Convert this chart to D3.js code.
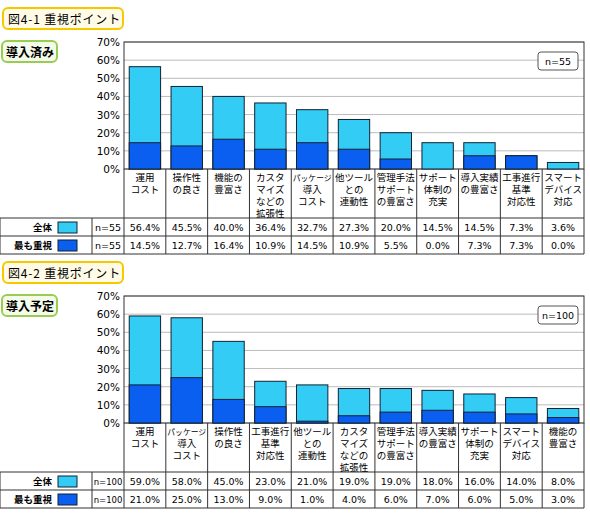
<!DOCTYPE html>
<html><head><meta charset="utf-8">
<script src="https://cdn.jsdelivr.net/npm/d3@7"></script>
<style>body{margin:0;background:#fff;font-family:"Noto Sans CJK JP",sans-serif;}</style>
</head><body><div id="chart"></div>
<script>
const cats1 = [['運用','コスト'],['操作性','の良さ'],['機能の','豊富さ'],['カスタ','マイズ','などの','拡張性'],['パッケージ','導入','コスト'],['他ツール','との','連動性'],['管理手法','サポート','の豊富さ'],['サポート','体制の','充実'],['導入実績','の豊富さ'],['工事進行','基準','対応性'],['スマート','デバイス','対応']];
const total1 = [56.4,45.5,40.0,36.4,32.7,27.3,20.0,14.5,14.5,7.3,3.6];
const top1 = [14.5,12.7,16.4,10.9,14.5,10.9,5.5,0.0,7.3,7.3,0.0];
const cats2 = [['運用','コスト'],['パッケージ','導入','コスト'],['操作性','の良さ'],['工事進行','基準','対応性'],['他ツール','との','連動性'],['カスタ','マイズ','などの','拡張性'],['管理手法','サポート','の豊富さ'],['導入実績','の豊富さ'],['サポート','体制の','充実'],['スマート','デバイス','対応'],['機能の','豊富さ']];
const total2 = [59.0,58.0,45.0,23.0,21.0,19.0,19.0,18.0,16.0,14.0,8.0];
const top2 = [21.0,25.0,13.0,9.0,1.0,4.0,6.0,7.0,6.0,5.0,3.0];
const yTicks = [0,10,20,30,40,50,60,70];

const W = 590, H = 519;
const svg = d3.select('#chart').append('svg').attr('width', W).attr('height', H);
const light = '#33ccf5', dark = '#0a5ff0';
const num = 'Verdana, DejaVu Sans';

function panel(y0, title, sub, n, cats, total, top) {
    const g = svg.append('g').attr('transform', `translate(0,${y0})`);
    const left = 124, right = 584, pTop = 42, pBot = 169;
    g.append('rect').attr('x', 3).attr('y', 8).attr('width', 120).attr('height', 21).attr('rx', 5)
        .attr('fill', '#fffbe6').attr('stroke', '#f5c800').attr('stroke-width', 2);
    g.append('text').attr('x', 8).attr('y', 24).attr('font-size', 12).attr('letter-spacing', 0.8).text(title);
    g.append('rect').attr('x', 2).attr('y', 41).attr('width', 55).attr('height', 21).attr('rx', 5)
        .attr('fill', '#f4fbe9').attr('stroke', '#99cc55').attr('stroke-width', 2);
    g.append('text').attr('x', 6).attr('y', 57).attr('font-size', 12).attr('font-weight', 'bold').text(sub);

    const x = d3.scaleBand().domain(d3.range(cats.length)).range([left, right]).paddingInner(0.25).paddingOuter(0.125);
    const y = d3.scaleLinear().domain([0, 70]).range([pBot, pTop]);

    g.append('g').selectAll('line').data(yTicks).join('line')
        .attr('x1', left).attr('x2', right).attr('y1', d => y(d)).attr('y2', d => y(d))
        .attr('stroke', '#bbb');
    g.append('rect').attr('x', left).attr('y', pTop).attr('width', right - left).attr('height', pBot - pTop)
        .attr('fill', 'none').attr('stroke', '#333');
    g.append('g').selectAll('text').data(yTicks).join('text')
        .attr('x', left - 4).attr('y', d => y(d) + 4).attr('text-anchor', 'end')
        .attr('font-size', 10.5).attr('font-family', num).text(d => d + '%');

    g.append('g').selectAll('rect').data(total).join('rect')
        .attr('x', (d, i) => x(i)).attr('width', x.bandwidth())
        .attr('y', d => y(d)).attr('height', d => pBot - y(d))
        .attr('fill', light).attr('stroke', '#123');
    g.append('g').selectAll('rect').data(top).join('rect')
        .attr('x', (d, i) => x(i)).attr('width', x.bandwidth())
        .attr('y', d => y(d)).attr('height', d => pBot - y(d))
        .attr('fill', dark).attr('stroke', '#123').attr('stroke-width', d => d > 0 ? 1 : 0);

    g.append('rect').attr('x', right - 46).attr('y', 10 + pTop).attr('width', 40).attr('height', 18).attr('rx', 3)
        .attr('fill', '#fff').attr('stroke', '#555');
    g.append('text').attr('x', right - 26).attr('y', 23 + pTop).attr('text-anchor', 'middle')
        .attr('font-size', 9.5).attr('font-family', num).text('n=' + n);

    const labBot = 218, r1 = 236, r2 = 254;
    const step = x.step();
    const colX = i => left + i * step;
    const tg = g.append('g').attr('stroke', '#333').attr('fill', 'none');
    d3.range(cats.length + 1).forEach(i => tg.append('line').attr('x1', colX(i)).attr('x2', colX(i)).attr('y1', pBot).attr('y2', r2));
    tg.append('line').attr('x1', 0).attr('x2', right).attr('y1', labBot).attr('y2', labBot);
    tg.append('line').attr('x1', 0).attr('x2', right).attr('y1', r1).attr('y2', r1);
    tg.append('line').attr('x1', 0).attr('x2', right).attr('y1', r2).attr('y2', r2);
    [0, 92].forEach(xx => tg.append('line').attr('x1', xx).attr('x2', xx).attr('y1', labBot).attr('y2', r2));

    cats.forEach((c, i) => {
        c.forEach((s, k) => g.append('text').attr('x', colX(i) + step / 2).attr('y', pBot + 12 + k * 12)
            .attr('text-anchor', 'middle').attr('font-size', s.length > 4 ? 7.8 : 9.5).text(s));
    });
    [['全体', light, total], ['最も重視', dark, top]].forEach(([lab, col, vals], r) => {
        const yy = labBot + r * 18;
        g.append('text').attr('x', 52).attr('y', yy + 13).attr('text-anchor', 'end').attr('font-size', 9.5).attr('font-weight', 'bold').text(lab);
        g.append('rect').attr('x', 58).attr('y', yy + 4).attr('width', 19).attr('height', 11).attr('fill', col).attr('stroke', '#123');
        g.append('text').attr('x', 108).attr('y', yy + 13).attr('text-anchor', 'middle').attr('font-size', n >= 100 ? 8.5 : 9.5)
            .attr('font-family', num).text('n=' + n);
        vals.forEach((v, i) => g.append('text').attr('x', colX(i) + step / 2).attr('y', yy + 13)
            .attr('text-anchor', 'middle').attr('font-size', 9.5).attr('font-family', num).text(v.toFixed(1) + '%'));
    });
}

panel(0, '図4-1 重視ポイント', '導入済み', 55, cats1, total1, top1);
panel(254, '図4-2 重視ポイント', '導入予定', 100, cats2, total2, top2);
</script></body></html>
